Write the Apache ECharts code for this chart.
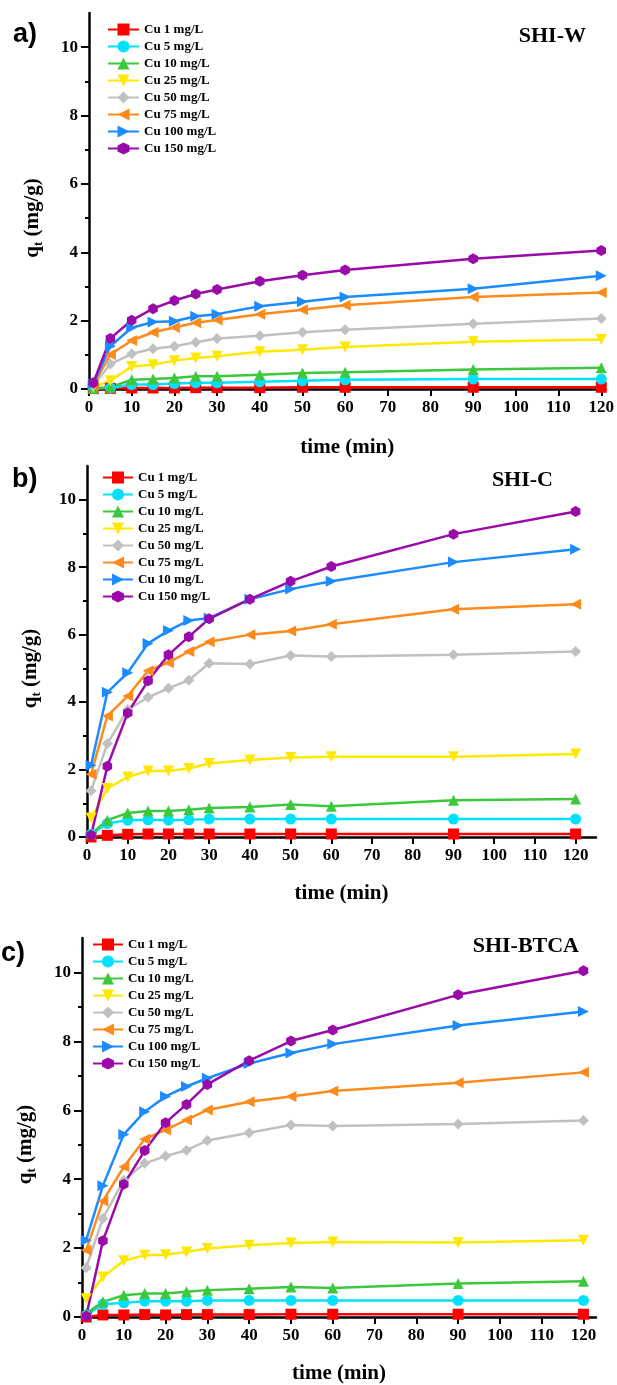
<!DOCTYPE html>
<html>
<head>
<meta charset="utf-8">
<script src="https://cdn.jsdelivr.net/npm/echarts@6/dist/echarts.min.js"></script>
<style>
html,body{margin:0;padding:0;background:#fff;}
#main{width:617px;height:1385px;}
</style>
</head>
<body>
<div id="main"></div>
<script>
// contact time (min)
const time = [1, 5, 10, 15, 20, 25, 30, 40, 50, 60, 90, 120];
const xTicks = [0, 10, 20, 30, 40, 50, 60, 70, 80, 90, 100, 110, 120];
const yTicks = [0, 2, 4, 6, 8, 10];
const yMinor = [1, 3, 5, 7, 9];

const labelsW = ['Cu 1 mg/L', 'Cu 5 mg/L', 'Cu 10 mg/L', 'Cu 25 mg/L', 'Cu 50 mg/L', 'Cu 75 mg/L', 'Cu 100 mg/L', 'Cu 150 mg/L'];
const labelsC = ['Cu 1 mg/L', 'Cu 5 mg/L', 'Cu 10 mg/L', 'Cu 25 mg/L', 'Cu 50 mg/L', 'Cu 75 mg/L', 'Cu 10 mg/L', 'Cu 150 mg/L'];
const labelsBTCA = ['Cu 1 mg/L', 'Cu 5 mg/L', 'Cu 10 mg/L', 'Cu 25 mg/L', 'Cu 50 mg/L', 'Cu 75 mg/L', 'Cu 100 mg/L', 'Cu 150 mg/L'];

// q_t (mg/g), one row per concentration
const qW = [
  [0.01, 0.02, 0.03, 0.03, 0.03, 0.04, 0.04, 0.04, 0.05, 0.05, 0.05, 0.05],
  [0.02, 0.03, 0.13, 0.13, 0.16, 0.18, 0.18, 0.21, 0.24, 0.27, 0.29, 0.29],
  [0.02, 0.05, 0.27, 0.29, 0.32, 0.37, 0.37, 0.42, 0.47, 0.49, 0.57, 0.62],
  [0.05, 0.24, 0.66, 0.71, 0.83, 0.91, 0.96, 1.09, 1.15, 1.23, 1.38, 1.45],
  [0.10, 0.73, 1.03, 1.18, 1.25, 1.37, 1.48, 1.56, 1.66, 1.73, 1.91, 2.06],
  [0.12, 1.01, 1.42, 1.66, 1.80, 1.94, 2.02, 2.19, 2.32, 2.45, 2.69, 2.82],
  [0.15, 1.25, 1.79, 1.96, 1.98, 2.13, 2.19, 2.42, 2.55, 2.69, 2.93, 3.31],
  [0.18, 1.48, 2.01, 2.35, 2.59, 2.78, 2.91, 3.15, 3.33, 3.48, 3.81, 4.05]
];
const qC = [
  [0.00, 0.05, 0.08, 0.09, 0.09, 0.09, 0.09, 0.09, 0.09, 0.09, 0.09, 0.09],
  [0.08, 0.40, 0.50, 0.51, 0.50, 0.51, 0.53, 0.53, 0.53, 0.53, 0.53, 0.53],
  [0.10, 0.50, 0.71, 0.77, 0.77, 0.81, 0.86, 0.89, 0.96, 0.91, 1.09, 1.13],
  [0.56, 1.44, 1.78, 1.96, 1.96, 2.03, 2.18, 2.28, 2.36, 2.38, 2.38, 2.46],
  [1.37, 2.77, 3.78, 4.14, 4.41, 4.65, 5.15, 5.13, 5.38, 5.35, 5.40, 5.50],
  [1.86, 3.59, 4.18, 4.93, 5.17, 5.50, 5.79, 6.00, 6.11, 6.31, 6.75, 6.90],
  [2.13, 4.29, 4.87, 5.74, 6.12, 6.42, 6.49, 7.05, 7.35, 7.58, 8.15, 8.53],
  [0.05, 2.10, 3.68, 4.63, 5.40, 5.94, 6.47, 7.05, 7.58, 8.02, 8.98, 9.65]
];
const qBTCA = [
  [0.00, 0.06, 0.06, 0.07, 0.06, 0.07, 0.07, 0.07, 0.08, 0.08, 0.08, 0.08],
  [0.05, 0.37, 0.41, 0.46, 0.46, 0.46, 0.48, 0.48, 0.48, 0.48, 0.48, 0.48],
  [0.10, 0.44, 0.63, 0.68, 0.68, 0.73, 0.78, 0.82, 0.87, 0.84, 0.97, 1.04],
  [0.53, 1.16, 1.63, 1.79, 1.81, 1.89, 1.99, 2.08, 2.15, 2.18, 2.16, 2.23],
  [1.43, 2.86, 3.97, 4.46, 4.67, 4.84, 5.12, 5.35, 5.57, 5.54, 5.60, 5.70],
  [1.94, 3.37, 4.36, 5.16, 5.43, 5.72, 6.01, 6.25, 6.40, 6.56, 6.80, 7.10],
  [2.23, 3.81, 5.30, 5.96, 6.40, 6.69, 6.93, 7.36, 7.66, 7.92, 8.46, 8.87],
  [0.02, 2.21, 3.85, 4.83, 5.64, 6.17, 6.75, 7.44, 8.01, 8.33, 9.35, 10.05]
];

const colors = ['#FF0000', '#00E1FF', '#3CC83C', '#FFE800', '#C0C0C0', '#FF8A1C', '#1C8BFF', '#9A0AA8'];
const symbols = [
  'rect',
  'circle',
  'triangle',
  'path://M-1,-1 L1,-1 L0,1 Z',
  'diamond',
  'path://M1,-1 L1,1 L-1,0 Z',
  'path://M-1,-1 L-1,1 L1,0 Z',
  'path://M0,-1 L0.87,-0.5 L0.87,0.5 L0,1 L-0.87,0.5 L-0.87,-0.5 Z'
];

const serif = 'Liberation Serif';
const panels = [
  {letter: 'a)', title: 'SHI-W', q: qW, labels: labelsW, xMax: 121,
   grid: {left: 89, top: 13, width: 518, height: 376},
   legend: {left: 107, top: 22, w: 31}, titlePos: {right: 31, top: 25}, letterPos: {left: 13, top: 21}, xGap: 48},
  {letter: 'b)', title: 'SHI-C', q: qC, labels: labelsC, xMax: 125,
   grid: {left: 87, top: 466, width: 509, height: 371},
   legend: {left: 102, top: 470, w: 30}, titlePos: {right: 64, top: 469}, letterPos: {left: 12, top: 466}, xGap: 46},
  {letter: 'c)', title: 'SHI-BTCA', q: qBTCA, labels: labelsBTCA, xMax: 123,
   grid: {left: 82, top: 938, width: 514, height: 379},
   legend: {left: 92, top: 937, w: 30}, titlePos: {right: 38, top: 935}, letterPos: {left: 1, top: 940}, xGap: 46}
];

const grid = [], xAxis = [], yAxis = [], series = [], legend = [], title = [];
panels.forEach((p, k) => {
  grid.push(p.grid);
  xAxis.push({
    type: 'value', gridIndex: k, min: 0, max: p.xMax,
    name: 'time (min)', nameLocation: 'middle', nameGap: p.xGap,
    nameTextStyle: {fontFamily: serif, fontWeight: 'bold', fontSize: 21, color: '#000'},
    axisLine: {show: true, onZero: false, lineStyle: {color: '#000', width: 2.5}},
    axisTick: {show: true, length: 7, lineStyle: {color: '#000', width: 2}, customValues: xTicks},
    axisLabel: {fontFamily: serif, fontWeight: 'bold', fontSize: 17, color: '#000', margin: 10, customValues: xTicks},
    splitLine: {show: false}
  });
  yAxis.push({
    type: 'value', gridIndex: k, min: 0, max: 11,
    name: '{q|q}{t|t}{q| (mg/g)}', nameLocation: 'middle', nameGap: 44, nameRotate: 90,
    nameTextStyle: {
      padding: [0, 34, 0, 0],
      rich: {
        q: {fontFamily: serif, fontWeight: 'bold', fontSize: 21, color: '#000', lineHeight: 24},
        t: {fontFamily: serif, fontWeight: 'bold', fontSize: 13, color: '#000', lineHeight: 13, verticalAlign: 'bottom'}
      }
    },
    axisLine: {show: true, onZero: false, lineStyle: {color: '#000', width: 2.5}},
    axisTick: {show: true, length: 8, lineStyle: {color: '#000', width: 2}, customValues: yTicks},
    axisLabel: {fontFamily: serif, fontWeight: 'bold', fontSize: 17, color: '#000', margin: 11, customValues: yTicks},
    splitLine: {show: false}
  });
  // minor ticks on odd values
  yAxis.push({
    type: 'value', gridIndex: k, min: 0, max: 11, position: 'left',
    axisLine: {show: false},
    axisTick: {show: true, length: 4, lineStyle: {color: '#000', width: 2}, customValues: yMinor},
    axisLabel: {show: false},
    splitLine: {show: false}
  });
  const names = [];
  p.q.forEach((row, i) => {
    const name = k + '_' + i + '#' + p.labels[i];
    names.push(name);
    series.push({
      name: name, type: 'line', xAxisIndex: k, yAxisIndex: 2 * k,
      data: time.map((t, j) => [t, row[j]]),
      symbol: symbols[i], symbolSize: 11, symbolKeepAspect: true,
      lineStyle: {color: colors[i], width: 2.5},
      itemStyle: {color: colors[i]},
      animation: false
    });
  });
  legend.push({
    data: names, orient: 'vertical', left: p.legend.left, top: p.legend.top,
    itemWidth: p.legend.w, itemHeight: 15, itemGap: 2, padding: 0,
    formatter: n => n.split('#')[1],
    textStyle: {fontFamily: serif, fontWeight: 'bold', fontSize: 13, color: '#000', lineHeight: 15},
    selectedMode: false
  });
  title.push({
    text: p.title, right: p.titlePos.right, top: p.titlePos.top, padding: 0,
    textStyle: {fontFamily: serif, fontWeight: 'bold', fontSize: 22, color: '#000'}
  });
  title.push({
    text: p.letter, left: p.letterPos.left, top: p.letterPos.top, padding: 0,
    textStyle: {fontFamily: 'Liberation Sans', fontWeight: 'bold', fontSize: 27, color: '#000'}
  });
});

const chart = echarts.init(document.getElementById('main'));
chart.setOption({
  backgroundColor: '#fff',
  animation: false,
  title: title,
  legend: legend,
  grid: grid,
  xAxis: xAxis,
  yAxis: yAxis,
  series: series
});
</script>
</body>
</html>
